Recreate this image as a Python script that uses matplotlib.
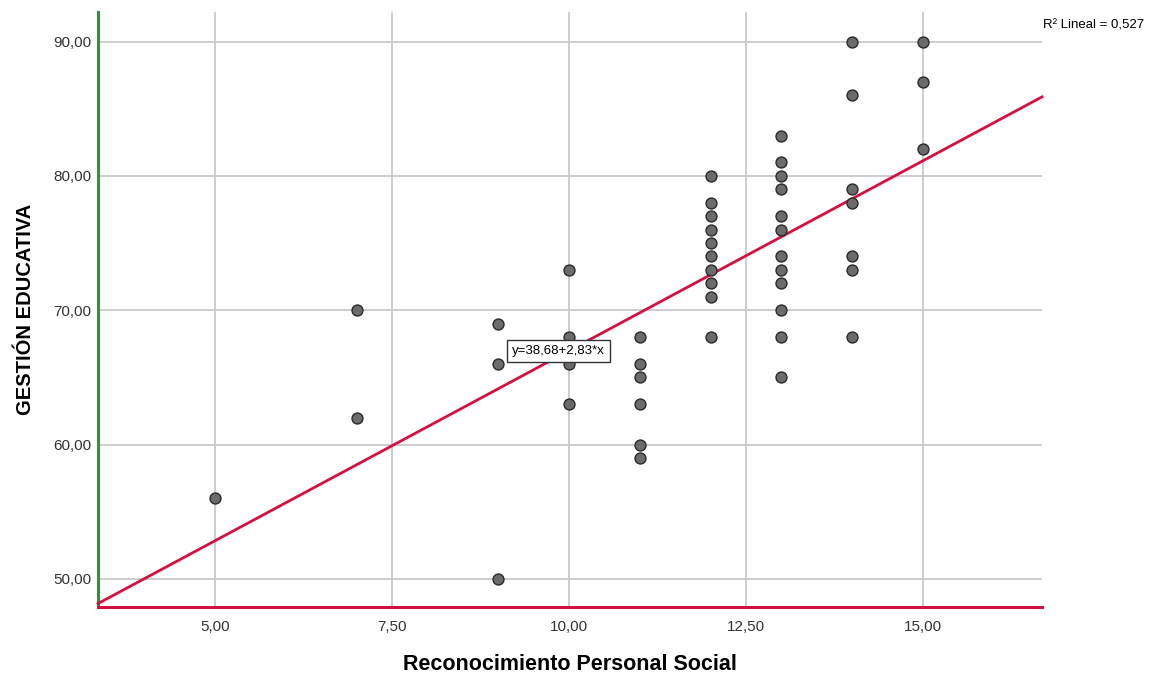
#!/usr/bin/env python3
"""Scatter of GESTIÓN EDUCATIVA vs Reconocimiento Personal Social with linear fit."""

import matplotlib
matplotlib.use("Agg")
import matplotlib.pyplot as plt
import matplotlib.ticker as ticker

plt.rcParams["font.family"] = ["Liberation Sans", "DejaVu Sans"]

# Data (one list per x value)
x_values = [5, 7, 9, 10, 11, 12, 13, 14, 15]
y_groups = [
    [56],
    [70, 62],
    [69, 66, 50],
    [73, 68, 66, 63],
    [68, 66, 65, 63, 60, 59],
    [80, 78, 77, 76, 75, 74, 73, 72, 71, 68],
    [83, 81, 80, 79, 77, 76, 74, 73, 72, 70, 68, 65],
    [90, 86, 79, 78, 74, 73, 68],
    [90, 87, 82],
]

intercept = 38.68
slope = 2.83
r2 = 0.527

x_ticks = [5, 7.5, 10, 12.5, 15]
y_ticks = [50, 60, 70, 80, 90]
x_lim = (3.35, 16.68)
y_lim = (47.9, 92.2)

RED = "#d5103f"
GREEN = "#2b962b"


def comma_fmt(v, p):
    return f"{v:.2f}".replace(".", ",")


def main():
    xs, ys = [], []
    for xv, group in zip(x_values, y_groups):
        for yv in group:
            xs.append(xv)
            ys.append(yv)

    fig = plt.figure(figsize=(11.59, 6.75), dpi=100)
    ax = fig.add_axes([0.0846, 0.1007, 0.8145, 0.8815])
    ax.set_xlim(*x_lim)
    ax.set_ylim(*y_lim)

    # Grid
    ax.set_xticks(x_ticks)
    ax.set_yticks(y_ticks)
    ax.grid(True, color="#c8c8c8", linewidth=1.3, zorder=0)
    ax.set_axisbelow(True)

    # Fit line
    ax.plot(list(x_lim), [intercept + slope * x_lim[0], intercept + slope * x_lim[1]],
            color=RED, linewidth=2.0, zorder=3, clip_on=False)

    # Points
    ax.scatter(xs, ys, s=62, color="#6b6b6b", edgecolors="#2a2a2a",
               linewidths=1.0, zorder=4)

    # Spines
    for side in ["top", "right"]:
        ax.spines[side].set_visible(False)
    ax.spines["left"].set_color(GREEN)
    ax.spines["left"].set_linewidth(2.2)
    ax.spines["bottom"].set_color(RED)
    ax.spines["bottom"].set_linewidth(2.2)

    ax.xaxis.set_major_formatter(ticker.FuncFormatter(comma_fmt))
    ax.yaxis.set_major_formatter(ticker.FuncFormatter(comma_fmt))
    ax.tick_params(axis="x", length=0, pad=9, labelsize=11, colors="#333333")
    ax.tick_params(axis="y", length=0, pad=5, labelsize=11, colors="#333333")

    ax.set_xlabel("Reconocimiento Personal Social", fontsize=15.5, fontweight="bold",
                  labelpad=15)
    ax.set_ylabel("GESTIÓN EDUCATIVA", fontsize=14.5, fontweight="bold", labelpad=13)

    # Equation label
    ax.text(9.2, 66.95, f"y={intercept:.2f}+{slope:.2f}*x".replace(".", ","),
            fontsize=9.5, ha="left", va="center", zorder=5,
            bbox=dict(boxstyle="square,pad=0.4", facecolor="white",
                      edgecolor="#333333", linewidth=1.0))

    # R squared note
    fig.text(0.9, 1 - 25 / 675, f"R² Lineal = {r2:.3f}".replace(".", ","),
             fontsize=9.5, ha="left", va="center")

    fig.savefig("out.png", dpi=100, facecolor="white")
    plt.close(fig)


if __name__ == "__main__":
    main()
